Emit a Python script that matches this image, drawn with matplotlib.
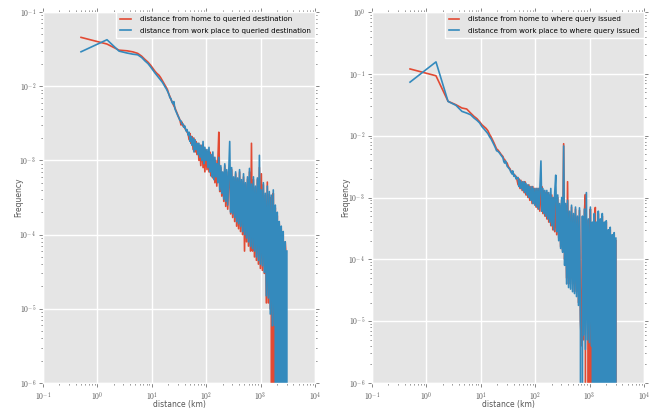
import math
import matplotlib
matplotlib.use("Agg")
import matplotlib.pyplot as plt
from matplotlib.ticker import FuncFormatter, NullFormatter

# bin centres (km) shared by all series
distance_km = [
    0.5, 1.5, 2.5, 3.5, 4.5, 5.5, 6.5, 7.5, 8.5, 9.5,
    10.5, 11.5, 12.5, 13.5, 14.5, 15.5, 16.5, 17.5, 18.5, 19.5,
    20.5, 21.5, 22.5, 23.5, 24.5, 25.5, 26.5, 27.5, 28.5, 30.5,
    31.5, 32.5, 34.5, 35.5, 37.5, 38.5, 40.5, 42.5, 44.5, 46.5,
    48.5, 50.5, 52.5, 54.5, 57.5, 59.5, 62.5, 64.5, 67.5, 70.5,
    73.5, 76.5, 79.5, 83.5, 87.5, 90.5, 94.5, 98.5, 103.5, 107.5,
    112.5, 116.5, 121.5, 127.5, 132.5, 138.5, 144.5, 150.5, 156.5, 163.5,
    170.5, 177.5, 185.5, 193.5, 201.5, 210.5, 219.5, 228.5, 238.5, 248.5,
    259.5, 270.5, 281.5, 293.5, 306.5, 319.5, 333.5, 347.5, 362.5, 377.5,
    393.5, 410.5, 427.5, 446.5, 465.5, 485.5, 506.5, 527.5, 550.5, 574.5,
    598.5, 624.5, 651.5, 679.5, 708.5, 738.5, 770.5, 803.5, 837.5, 873.5,
    911.5, 950.5, 990.5, 1033.5, 1077.5, 1123.5, 1171.5, 1221.5, 1274.5, 1329.5,
    1386.5, 1445.5, 1507.5, 1572.5, 1639.5, 1710.5, 1783.5, 1860.5, 1940.5, 2023.5,
    2110.5, 2200.5, 2295.5, 2393.5, 2496.5, 2603.5, 2715.5, 2832.5, 2953.5, 3040.5,
]

home_to_dest = [
    0.0455, 0.037, 0.0306, 0.030, 0.029, 0.0277, 0.0254, 0.0229, 0.0211, 0.0192,
    0.0173, 0.0158, 0.0148, 0.0141, 0.0131, 0.0120, 0.0110, 0.0103, 0.0096, 0.0089,
    0.0078, 0.0073, 0.0066, 0.0062, 0.0058, 0.0054, 0.0052, 0.0048, 0.0045, 0.0040,
    0.0037, 0.0036, 0.0030, 0.0033, 0.0029, 0.0030, 0.0027, 0.0026, 0.0024, 0.0023,
    0.0019, 0.0023, 0.0017, 0.0021, 0.0014, 0.0020, 0.0013, 0.0018, 0.0012, 0.0017,
    0.0010, 0.0016, 0.00085, 0.0016, 0.0008, 0.0015, 0.0007, 0.0014, 0.00075, 0.0013,
    0.0007, 0.0013, 0.00062, 0.0012, 0.00058, 0.0011, 0.0005, 0.0010, 0.00045, 0.00095,
    0.0024, 0.00038, 0.0008, 0.00033, 0.00068, 0.00028, 0.00085, 0.00024, 0.0007, 0.00022,
    0.0006, 0.0007, 0.00019, 0.00075, 0.00017, 0.00058, 0.00015, 0.00066, 0.00013, 0.00055,
    0.00012, 0.0007, 0.00011, 0.00052, 0.0001, 0.0006, 0.00006, 0.00048, 0.00008, 0.00056,
    0.00007, 0.0007, 0.00006, 0.0017, 0.00006, 0.00055, 0.00005, 0.00043, 0.000045, 0.00055,
    0.00004, 0.0008, 0.000035, 0.00066, 0.000033, 0.00047, 0.00003, 0.00034, 0.000012, 0.00051,
    0.000012, 0.00035, 0.00001, 0.00032, 0.0, 0.00036, 0.0, 0.00023, 0.0, 0.00018,
    0.0, 0.00014, 0.0, 0.00012, 0.0, 0.0001, 0.0, 0.00008, 0.000048, 0.0,
]

work_to_dest = [
    0.0291, 0.0423, 0.0297, 0.028, 0.027, 0.0265, 0.0244, 0.0219, 0.0202, 0.0182,
    0.0164, 0.0150, 0.0139, 0.0130, 0.0122, 0.0114, 0.0106, 0.0098, 0.0092, 0.0085,
    0.0079, 0.0070, 0.0068, 0.0061, 0.0058, 0.0062, 0.0050, 0.0047, 0.0044, 0.0039,
    0.0038, 0.0035, 0.0034, 0.0031, 0.0031, 0.0028, 0.0029, 0.0025, 0.0026, 0.0022,
    0.0024, 0.0018, 0.0021, 0.0016, 0.0020, 0.0013, 0.0019, 0.0014, 0.0017, 0.0012,
    0.0017, 0.0011, 0.0016, 0.0010, 0.0018, 0.0009, 0.0015, 0.0010, 0.0014, 0.0008,
    0.0015, 0.0007, 0.0012, 0.0006, 0.0013, 0.00055, 0.0011, 0.0006, 0.0009, 0.0005,
    0.0011, 0.0004, 0.00085, 0.00036, 0.0007, 0.0003, 0.0009, 0.00028, 0.00075, 0.00025,
    0.00065, 0.0018, 0.0002, 0.0008, 0.00019, 0.0006, 0.00017, 0.0007, 0.00015, 0.00058,
    0.00014, 0.00075, 0.00013, 0.00055, 0.00011, 0.00066, 0.0001, 0.0005, 0.00009, 0.0006,
    0.00008, 0.00078, 0.00007, 0.00048, 0.000065, 0.0006, 0.00006, 0.00045, 0.00005, 0.00058,
    0.000045, 0.00117, 0.00004, 0.0004, 0.000038, 0.0005, 0.000031, 0.00036, 0.000015, 0.00045,
    0.000014, 0.00038, 0.0000085, 0.00034, 0.0000059, 0.0004, 0.000006, 0.00025, 0.0, 0.0002,
    0.0, 0.00015, 0.0, 0.00013, 0.0, 0.00011, 0.0, 0.00008, 0.0, 0.00006,
]

home_to_issued = [
    0.12, 0.093, 0.036, 0.0316, 0.028, 0.027, 0.0232, 0.0205, 0.0188, 0.0168,
    0.0150, 0.0140, 0.0131, 0.0120, 0.0105, 0.0095, 0.0085, 0.0076, 0.0068, 0.0061,
    0.0059, 0.0056, 0.0053, 0.0050, 0.0048, 0.0046, 0.0042, 0.0041, 0.0038, 0.0036,
    0.0033, 0.0031, 0.0029, 0.0027, 0.0026, 0.0025, 0.0024, 0.0022, 0.0022, 0.0019,
    0.0016, 0.0020, 0.0014, 0.0019, 0.0013, 0.0018, 0.0012, 0.0018, 0.0011, 0.0016,
    0.0010, 0.0016, 0.0009, 0.0015, 0.0008, 0.0015, 0.0008, 0.0014, 0.0007, 0.0014,
    0.00065, 0.0014, 0.0006, 0.0013, 0.0015, 0.00055, 0.0013, 0.0005, 0.0012, 0.00045,
    0.0012, 0.0004, 0.0011, 0.00035, 0.0011, 0.0003, 0.001, 0.00028, 0.001, 0.00025,
    0.001, 0.00022, 0.00075, 0.00016, 0.0009, 0.00014, 0.0074, 0.0001, 0.00075, 0.00005,
    0.0018, 0.00004, 0.00058, 0.000048, 0.0007, 0.00004, 0.00052, 0.00003, 0.00065, 0.00003,
    0.00048, 0.00002, 0.00062, 0.00001, 0.000004, 0.00048, 0.000005, 0.0006, 0.00112, 0.0,
    0.0, 0.00043, 0.0, 0.00065, 0.0, 0.00038, 0.0, 0.0005, 0.00069, 0.0,
    0.0, 0.00055, 0.0, 0.00042, 0.0, 0.0005, 0.0, 0.00038, 0.0, 0.0004,
    0.0, 0.00028, 0.0, 0.0003, 0.0, 0.00024, 0.0, 0.00025, 0.0, 0.0002,
]

work_to_issued = [
    0.0734, 0.156, 0.0358, 0.0309, 0.0247, 0.0232, 0.0218, 0.0193, 0.0177, 0.0161,
    0.0140, 0.0128, 0.0117, 0.0108, 0.0096, 0.0088, 0.0079, 0.0071, 0.0064, 0.0057,
    0.0056, 0.0054, 0.0051, 0.0048, 0.0046, 0.0044, 0.0038, 0.0036, 0.0039, 0.0032,
    0.0031, 0.0030, 0.0028, 0.0026, 0.0024, 0.0027, 0.0022, 0.0023, 0.0020, 0.0021,
    0.0021, 0.0015, 0.0019, 0.0014, 0.0018, 0.0013, 0.0018, 0.0012, 0.0017, 0.0011,
    0.0016, 0.0010, 0.0015, 0.0009, 0.0015, 0.0008, 0.0014, 0.00075, 0.0014, 0.0007,
    0.0014, 0.00065, 0.0013, 0.0039, 0.0006, 0.0014, 0.00055, 0.0013, 0.0005, 0.0013,
    0.00045, 0.0012, 0.0004, 0.0014, 0.00035, 0.001, 0.0003, 0.0012, 0.0023, 0.00028,
    0.0011, 0.0002, 0.0008, 0.00015, 0.001, 0.00013, 0.0068, 0.00008, 0.0008, 0.00004,
    0.0009, 0.000035, 0.0006, 0.000033, 0.00075, 0.00003, 0.00055, 0.000028, 0.0007, 0.000025,
    0.0005, 0.000018, 0.00068, 0.0000069, 0.0, 0.0005, 0.000006, 0.00065, 0.0000035, 0.0012,
    0.000005, 0.00045, 0.0000045, 0.0007, 0.000004, 0.0004, 0.0, 0.00055, 0.0, 0.0004,
    0.0, 0.0006, 0.0, 0.00045, 0.0, 0.00055, 0.0, 0.0004, 0.0, 0.00042,
    0.0, 0.0003, 0.0, 0.00033, 0.0, 0.00025, 0.0, 0.00027, 0.0, 0.00022,
]

labels_left = ["distance from home to queried destination",
               "distance from work place to queried destination"]
labels_right = ["distance from home to where query issued",
                "distance from work place to where query issued"]
x_label = "distance (km)"
y_label = "Frequency"

RED = "#E24A33"
BLUE = "#348ABD"
GREY = "#555555"

plt.rcParams.update({
    "font.family": "DejaVu Sans",
    "mathtext.fontset": "cm",
    "axes.facecolor": "#E5E5E5",
    "axes.edgecolor": "white",
    "axes.linewidth": 1.0,
    "grid.color": "white",
    "grid.linestyle": "-",
    "grid.linewidth": 1.0,
    "xtick.color": GREY,
    "ytick.color": GREY,
    "axes.labelcolor": GREY,
    "xtick.direction": "out",
    "ytick.direction": "out",
})

fig = plt.figure(figsize=(6.61, 4.12), dpi=100)
W, H = 661.0, 412.0
ax1 = fig.add_axes([43 / W, 1 - 383 / H, 272 / W, 371 / H])
ax2 = fig.add_axes([372 / W, 1 - 383 / H, 272 / W, 371 / H])

panels = [
    (ax1, home_to_dest, work_to_dest, labels_left, (1e-6, 1e-1), -0.074),
    (ax2, home_to_issued, work_to_issued, labels_right, (1e-6, 1e0), -0.081),
]

pow_fmt = FuncFormatter(lambda v, pos: r"$10^{%d}$" % round(math.log10(v)))

for ax, red_vals, blue_vals, labels, ylim, ylab_x in panels:
    ax.plot(distance_km, red_vals, color=RED, lw=1.2, label=labels[0])
    ax.plot(distance_km, blue_vals, color=BLUE, lw=1.2, label=labels[1])
    ax.set_xscale("log")
    ax.set_yscale("log", nonpositive="clip")
    ax.set_xlim(1e-1, 1e4)
    ax.set_ylim(*ylim)
    ax.xaxis.set_major_formatter(pow_fmt)
    ax.yaxis.set_major_formatter(pow_fmt)
    ax.xaxis.set_minor_formatter(NullFormatter())
    ax.yaxis.set_minor_formatter(NullFormatter())
    ax.grid(True, which="major")
    ax.set_axisbelow(True)
    ax.tick_params(which="major", length=3, width=0.5, top=True, right=True,
                   labelsize=5.5, pad=2, color=GREY)
    ax.tick_params(which="minor", length=1.5, width=0.5, top=True, right=True,
                   color=GREY)
    ax.set_xlabel(x_label, fontsize=5.5)
    ax.set_ylabel(y_label, fontsize=5.5)
    ax.xaxis.set_label_coords(0.5, -0.047)
    ax.yaxis.set_label_coords(ylab_x, 0.5)
    leg = ax.legend(loc="upper right", fontsize=5.1, borderaxespad=0,
                    fancybox=False, framealpha=1, handlelength=1.45,
                    handletextpad=1.3, labelspacing=0.75, borderpad=0.6)
    leg.get_frame().set_facecolor("#E5E5E5")
    leg.get_frame().set_edgecolor("white")
    leg.get_frame().set_linewidth(1.0)

fig.savefig("out.png", dpi=100)
